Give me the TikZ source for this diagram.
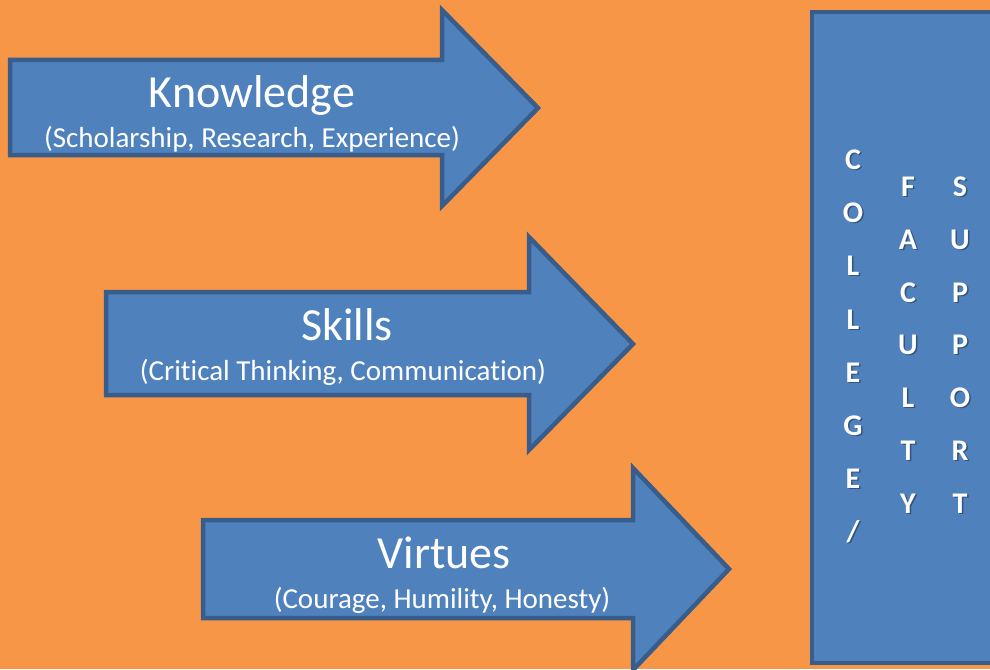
\documentclass[tikz,border=0pt]{standalone}
\usepackage{fontspec}
\setmainfont{Carlito}[Ligatures=NoCommon]
\definecolor{bgorange}{HTML}{F79646}
\definecolor{fillblue}{HTML}{4F81BD}
\definecolor{lineblue}{HTML}{385D8A}
\begin{document}
\begin{tikzpicture}[x=1pt,y=-1pt,
  arrowshape/.style={fill=fillblue,draw=lineblue,line width=4.5pt,line join=miter},
  titletext/.style={font=\fontsize{46}{50}\selectfont,text=white,anchor=base,inner sep=0pt},
  subtext/.style={font=\fontsize{29}{32}\selectfont,text=white,anchor=base,inner sep=0pt},
  letter/.style={font=\bfseries\fontsize{30}{32}\selectfont,text=white,anchor=base,inner sep=0pt},
  letshadow/.style={letter,text=black,opacity=0.35}]
\fill[bgorange] (0,0) rectangle (990,669);
\useasboundingbox (0,0) rectangle (990,669);
\clip (0,0) rectangle (990,669);
% arrows
\draw[arrowshape] (10,60) -- (442,60) -- (442,10) -- (538,108) -- (442,206) -- (442,155) -- (10,155) -- cycle;
\draw[arrowshape] (106,292) -- (529,292) -- (529,237) -- (633,344) -- (529,450) -- (529,395) -- (106,395) -- cycle;
\draw[arrowshape] (203,520) -- (633,520) -- (633,468) -- (729,569) -- (633,670) -- (633,618) -- (203,618) -- cycle;
% box
\draw[arrowshape] (812,12) rectangle (1000,663);
% texts
\node[titletext] (know) at (252,107) {Knowledge};
\node[subtext] (knowsub) at (252,147) {(Scholarship, Research, Experience)};
\node[titletext] (skills) at (347,340) {Skills};
\node[subtext] (skillsub) at (343,380) {(Critical Thinking, Communication)};
\node[titletext] (virt) at (444,568) {Virtues};
\node[subtext] (virtsub) at (442,608) {(Courage, Humility, Honesty)};
% vertical letters
\foreach \ch [count=\i from 0] in {C,O,L,L,E,G,E,/} {
  \node[letshadow] (sa\i) at (854.5,170.5+53.2*\i) {\ch};
  \node[letter] (a\i) at (853,169.5+53.2*\i) {\ch};
}
\foreach \ch [count=\i from 0] in {F,A,C,U,L,T,Y} {
  \node[letshadow] (sb\i) at (909.5,197.5+52.8*\i) {\ch};
  \node[letter] (b\i) at (908,196.5+52.8*\i) {\ch};
}
\foreach \ch [count=\i from 0] in {S,U,P,P,O,R,T} {
  \node[letshadow] (sc\i) at (961.5,197.5+52.8*\i) {\ch};
  \node[letter] (c\i) at (960,196.5+52.8*\i) {\ch};
}
\end{tikzpicture}
\end{document}
